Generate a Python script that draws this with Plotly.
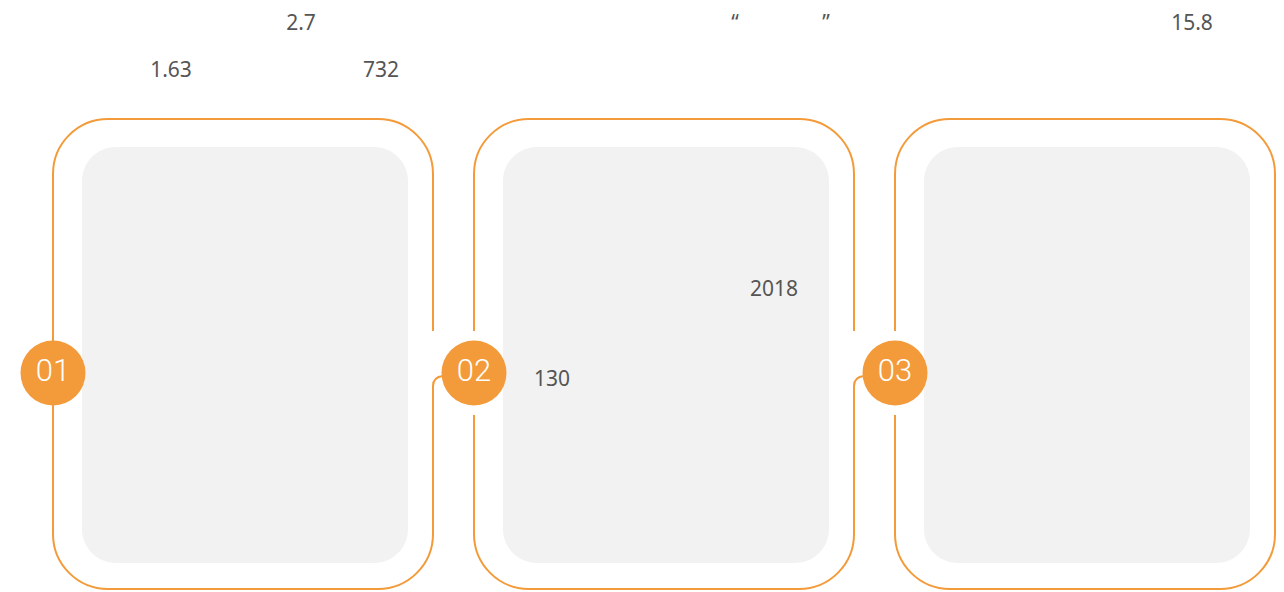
import plotly.graph_objects as go

# ---- data ----
step_labels = ["01", "02", "03"]
note_texts = ["2.7", "1.63", "732", "\u201c", "\u201d", "15.8", "2018", "130"]

# ---- layout positions (pixel-like coordinates of the 1284x592 window) ----
note_x = [301, 171, 381, 735, 826, 1192, 774, 552]
note_y = [25, 72, 72, 25, 25, 25, 291, 381]
card_left = [53, 474, 895]
card_w = 380
top, bottom = 119, 589
R = 55
in_pad_l, in_pad_t, in_pad_r, in_pad_b = 29, 28, 25, 26
R_in = 34
circle_y = 373

ORANGE = "#F39B3A"
GRAY = "#F1F2F1"
K = 0.5523
OFF = 8  # page body margin


def rrect(x0, y0, x1, y1, r):
    k = r * (1 - K)
    return (f"M{x0+r},{y0} L{x1-r},{y0} C{x1-k},{y0} {x1},{y0+k} {x1},{y0+r} "
            f"L{x1},{y1-r} C{x1},{y1-k} {x1-k},{y1} {x1-r},{y1} "
            f"L{x0+r},{y1} C{x0+k},{y1} {x0},{y1-k} {x0},{y1-r} "
            f"L{x0},{y0+r} C{x0},{y0+k} {x0+k},{y0} {x0+r},{y0} Z")


def card_outline(x0, x1, last):
    k = R * (1 - K)
    if last:
        return rrect(x0, top, x1, bottom, R)
    p = (f"M{x1},331 L{x1},{top+R} C{x1},{top+k} {x1-k},{top} {x1-R},{top} "
         f"L{x0+R},{top} C{x0+k},{top} {x0},{top+k} {x0},{top+R} "
         f"L{x0},{bottom-R} C{x0},{bottom-k} {x0+k},{bottom} {x0+R},{bottom} "
         f"L{x1-R},{bottom} C{x1-k},{bottom} {x1},{bottom-k} {x1},{bottom-R} "
         f"L{x1},386 Q{x1},377 {x1+10},376")
    return p


shapes = []
for i, x0 in enumerate(card_left):
    x1 = x0 + card_w
    shapes.append(dict(type="path", path=rrect(x0 + in_pad_l, top + in_pad_t,
                                                x1 - in_pad_r, bottom - in_pad_b, R_in),
                       fillcolor=GRAY, line=dict(width=0), layer="below"))
    shapes.append(dict(type="path", path=card_outline(x0, x1, i == len(card_left) - 1),
                       line=dict(color=ORANGE, width=2), layer="below"))
    if i > 0:
        shapes.append(dict(type="rect", x0=x0 - 3, x1=x0 + 3, y0=331, y1=415,
                           fillcolor="white", line=dict(width=0), layer="below"))

fig = go.Figure()

fig.add_trace(go.Scatter(
    x=card_left, y=[circle_y] * len(card_left), mode="markers+text",
    text=step_labels, textposition="middle center",
    marker=dict(size=65, color=ORANGE, line=dict(width=0)),
    textfont=dict(family="Roboto, sans-serif", size=31, color="white", weight=300),
    hoverinfo="skip", showlegend=False, cliponaxis=False))

fig.add_trace(go.Scatter(
    x=note_x, y=note_y, mode="text", text=note_texts, textposition="middle center",
    textfont=dict(family="Noto Sans, Open Sans, sans-serif", size=21, color="#555555"),
    hoverinfo="skip", showlegend=False, cliponaxis=False))

fig.update_layout(
    width=1284 - OFF, height=592 - OFF, margin=dict(l=0, r=0, t=0, b=0),
    paper_bgcolor="white", plot_bgcolor="white",
    xaxis=dict(range=[OFF, 1284], visible=False, fixedrange=True),
    yaxis=dict(range=[592, OFF], visible=False, fixedrange=True),
    shapes=shapes,
)

fig.write_html("out.html")
